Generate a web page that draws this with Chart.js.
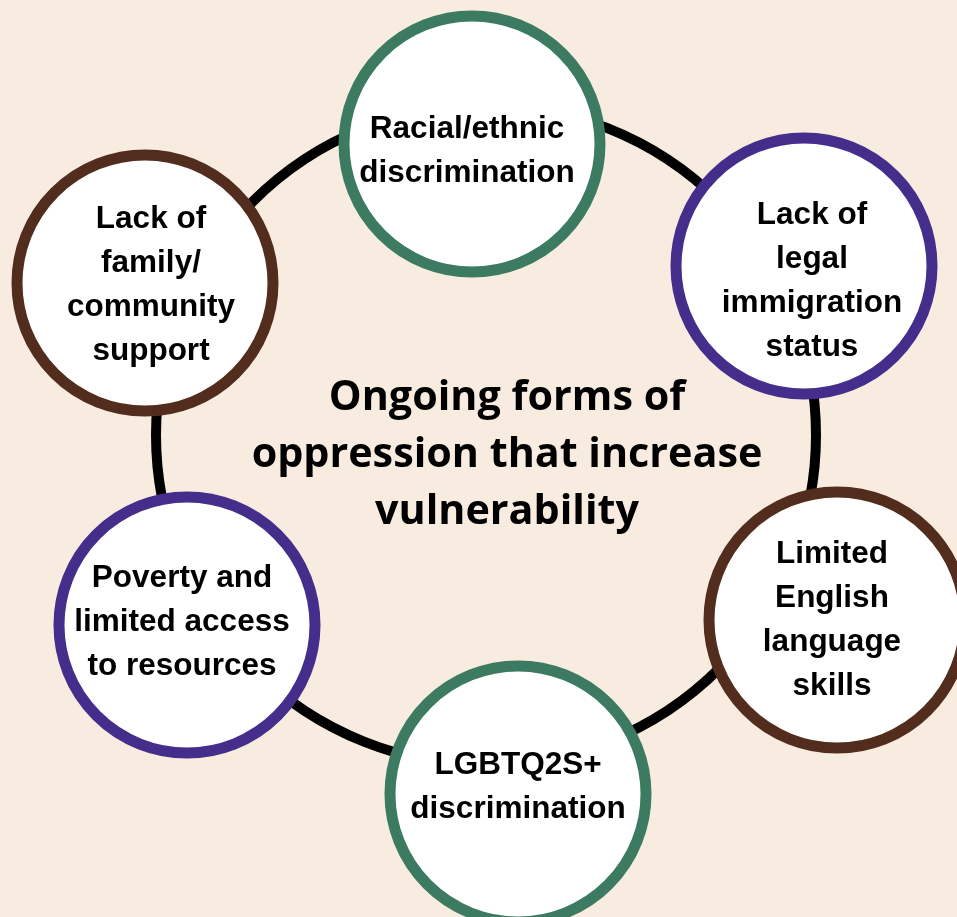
<!DOCTYPE html>
<html>
<head>
<meta charset="utf-8">
<script src="https://cdn.jsdelivr.net/npm/chart.js@4"></script>
<style>
  html, body { margin: 0; padding: 0; background: #f8ece0; }
  canvas { display: block; }
</style>
</head>
<body>
<canvas id="cycle" width="957" height="917"></canvas>
<script>
// Diagram data: six factors placed around a ring
const factors = [
    ['Racial/ethnic', 'discrimination'],
    ['Lack of', 'legal', 'immigration', 'status'],
    ['Limited', 'English', 'language', 'skills'],
    ['LGBTQ2S+', 'discrimination'],
    ['Poverty and', 'limited access', 'to resources'],
    ['Lack of', 'family/', 'community', 'support'],
];
const factorX = [472, 804, 837, 518, 187, 145];
const factorY = [144, 266, 620, 794, 625, 283];
const factorR = [128, 128, 128, 128, 128, 128];
const factorColors = ['#3c7b62', '#452e8b', '#522d1e', '#3c7b62', '#452e8b', '#522d1e'];

const hub = { x: 486, y: 435, r: 330 };
const title = ['Ongoing forms of', 'oppression that increase', 'vulnerability'];

const bg = {
    id: 'bg',
    beforeDraw(chart) {
        const c = chart.ctx;
        c.save();
        c.fillStyle = '#f8ece0';
        c.fillRect(0, 0, chart.width, chart.height);
        c.restore();
    },
};

const texts = {
    id: 'texts',
    afterDatasetsDraw(chart, args, opts) {
        const c = chart.ctx;
        const meta = chart.getDatasetMeta(0);
        c.save();
        c.fillStyle = '#000';
        c.textAlign = 'center';
        c.textBaseline = 'alphabetic';
        const fs = 31.5, lh = 44;
        c.font = 'bold ' + fs + 'px "Liberation Sans", Arial, sans-serif';
        meta.data.forEach((pt, i) => {
            const lines = factors[i];
            const [dx, dy] = opts.shift[i];
            lines.forEach((ln, j) => {
                const y = pt.y + dy + (j - (lines.length - 1) / 2) * lh + 0.36 * fs;
                c.fillText(ln, pt.x + dx, y);
            });
        });

        // centre title
        const sx = chart.scales.x, sy = chart.scales.y;
        const tx = sx.getPixelForValue(507), ty = sy.getPixelForValue(452);
        c.font = 'bold 36px "Open Sans", sans-serif';
        const w = c.measureText(title[1]).width;
        const tfs = 36 * 511 / w;
        c.font = 'bold ' + tfs.toFixed(1) + 'px "Open Sans", sans-serif';
        title.forEach((ln, j) => {
            c.fillText(ln, tx, ty + (j - 1) * 57 + 0.36 * tfs);
        });
        c.restore();
    },
};

new Chart(document.getElementById('cycle'), {
    type: 'bubble',
    data: {
        datasets: [
            {
                label: 'Factors',
                data: factorX.map((x, i) => ({ x: x, y: factorY[i], r: factorR[i] })),
                backgroundColor: '#ffffff',
                borderColor: factorColors,
                borderWidth: 11,
                order: 1,
                clip: false,
            },
            {
                label: 'Ring',
                data: [hub],
                backgroundColor: 'rgba(0,0,0,0)',
                borderColor: '#000000',
                borderWidth: 10,
                order: 2,
                clip: false,
            },
        ],
    },
    options: {
        responsive: false,
        animation: false,
        events: [],
        layout: { padding: 0, autoPadding: false },
        plugins: {
            legend: { display: false },
            tooltip: { enabled: false },
            texts: { shift: [[-5, 5], [8, 13], [-5, -2], [0, -9], [-5, -5], [6, 0]] },
        },
        scales: {
            x: { type: 'linear', display: false, min: 0, max: 957 },
            y: { type: 'linear', display: false, min: 0, max: 917, reverse: true },
        },
    },
    plugins: [bg, texts],
});
</script>
</body>
</html>
